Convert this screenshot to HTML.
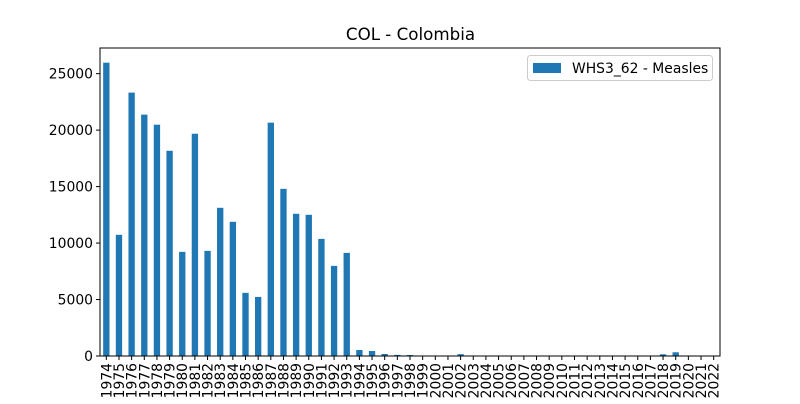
<!DOCTYPE html>
<html><head><meta charset="utf-8"><style>
body{margin:0;background:#fff;font-family:"DejaVu Sans","Liberation Sans",sans-serif}
</style></head><body>
<svg id="c" width="800" height="400" xmlns="http://www.w3.org/2000/svg" font-family="DejaVu Sans, Liberation Sans, sans-serif"></svg>
<script>
const years=[];for(let y=1974;y<=2022;y++)years.push(String(y));
const values=[25970,10730,23320,21370,20480,18170,9220,19680,9310,13120,11880,5590,5230,20660,14800,12590,12500,10370,7980,9130,530,440,180,100,90,0,0,0,160,0,0,0,0,0,0,0,0,0,0,0,0,0,0,0,150,330,0,0,0];
const yTicks=[0,5000,10000,15000,20000,25000];
const L=100,R=720,T=48,B=356,yMax=27270;
const svg=document.getElementById('c');const NS='http://www.w3.org/2000/svg';
function el(t,a,p){const e=document.createElementNS(NS,t);for(const k in a)e.setAttribute(k,a[k]);(p||svg).appendChild(e);return e;}
const step=(R-L)/years.length;
const xS=i=>L+step*(i+0.5);
const yS=v=>B-(v/yMax)*(B-T);
const title=el('text',{x:410.5,y:40,'text-anchor':'middle','font-size':16.7});title.textContent='COL - Colombia';


values.forEach((v,i)=>{const r=el('rect',{x:xS(i)-step/4,y:yS(v),width:step/2,height:B-yS(v),fill:'#1f77b4'});

});
years.forEach((y,i)=>{el('line',{x1:xS(i),x2:xS(i),y1:B,y2:B+4,stroke:'#000'});
const t=el('text',{x:0,y:0,'font-size':13.9,'text-anchor':'end',transform:`translate(${xS(i)+5},${B+7}) rotate(-90)`});t.textContent=y;

});
yTicks.forEach(v=>{el('line',{x1:L-4,x2:L,y1:yS(v),y2:yS(v),stroke:'#000'});
const t=el('text',{x:L-7,y:yS(v)+5,'font-size':13.9,'text-anchor':'end'});t.textContent=v;

});
const f=el('rect',{x:L,y:T,width:R-L,height:B-T,fill:'none',stroke:'#000','stroke-width':1});


const g=el('g',{});


el('rect',{x:527.5,y:55.5,width:185,height:25,rx:3,fill:'#fff',stroke:'#ccc'},g);
el('rect',{x:533,y:63,width:28,height:10,fill:'#1f77b4'},g);
const lt=el('text',{x:572,y:73,'font-size':13.9},g);lt.textContent='WHS3_62 - Measles';
</script>
</body></html>
